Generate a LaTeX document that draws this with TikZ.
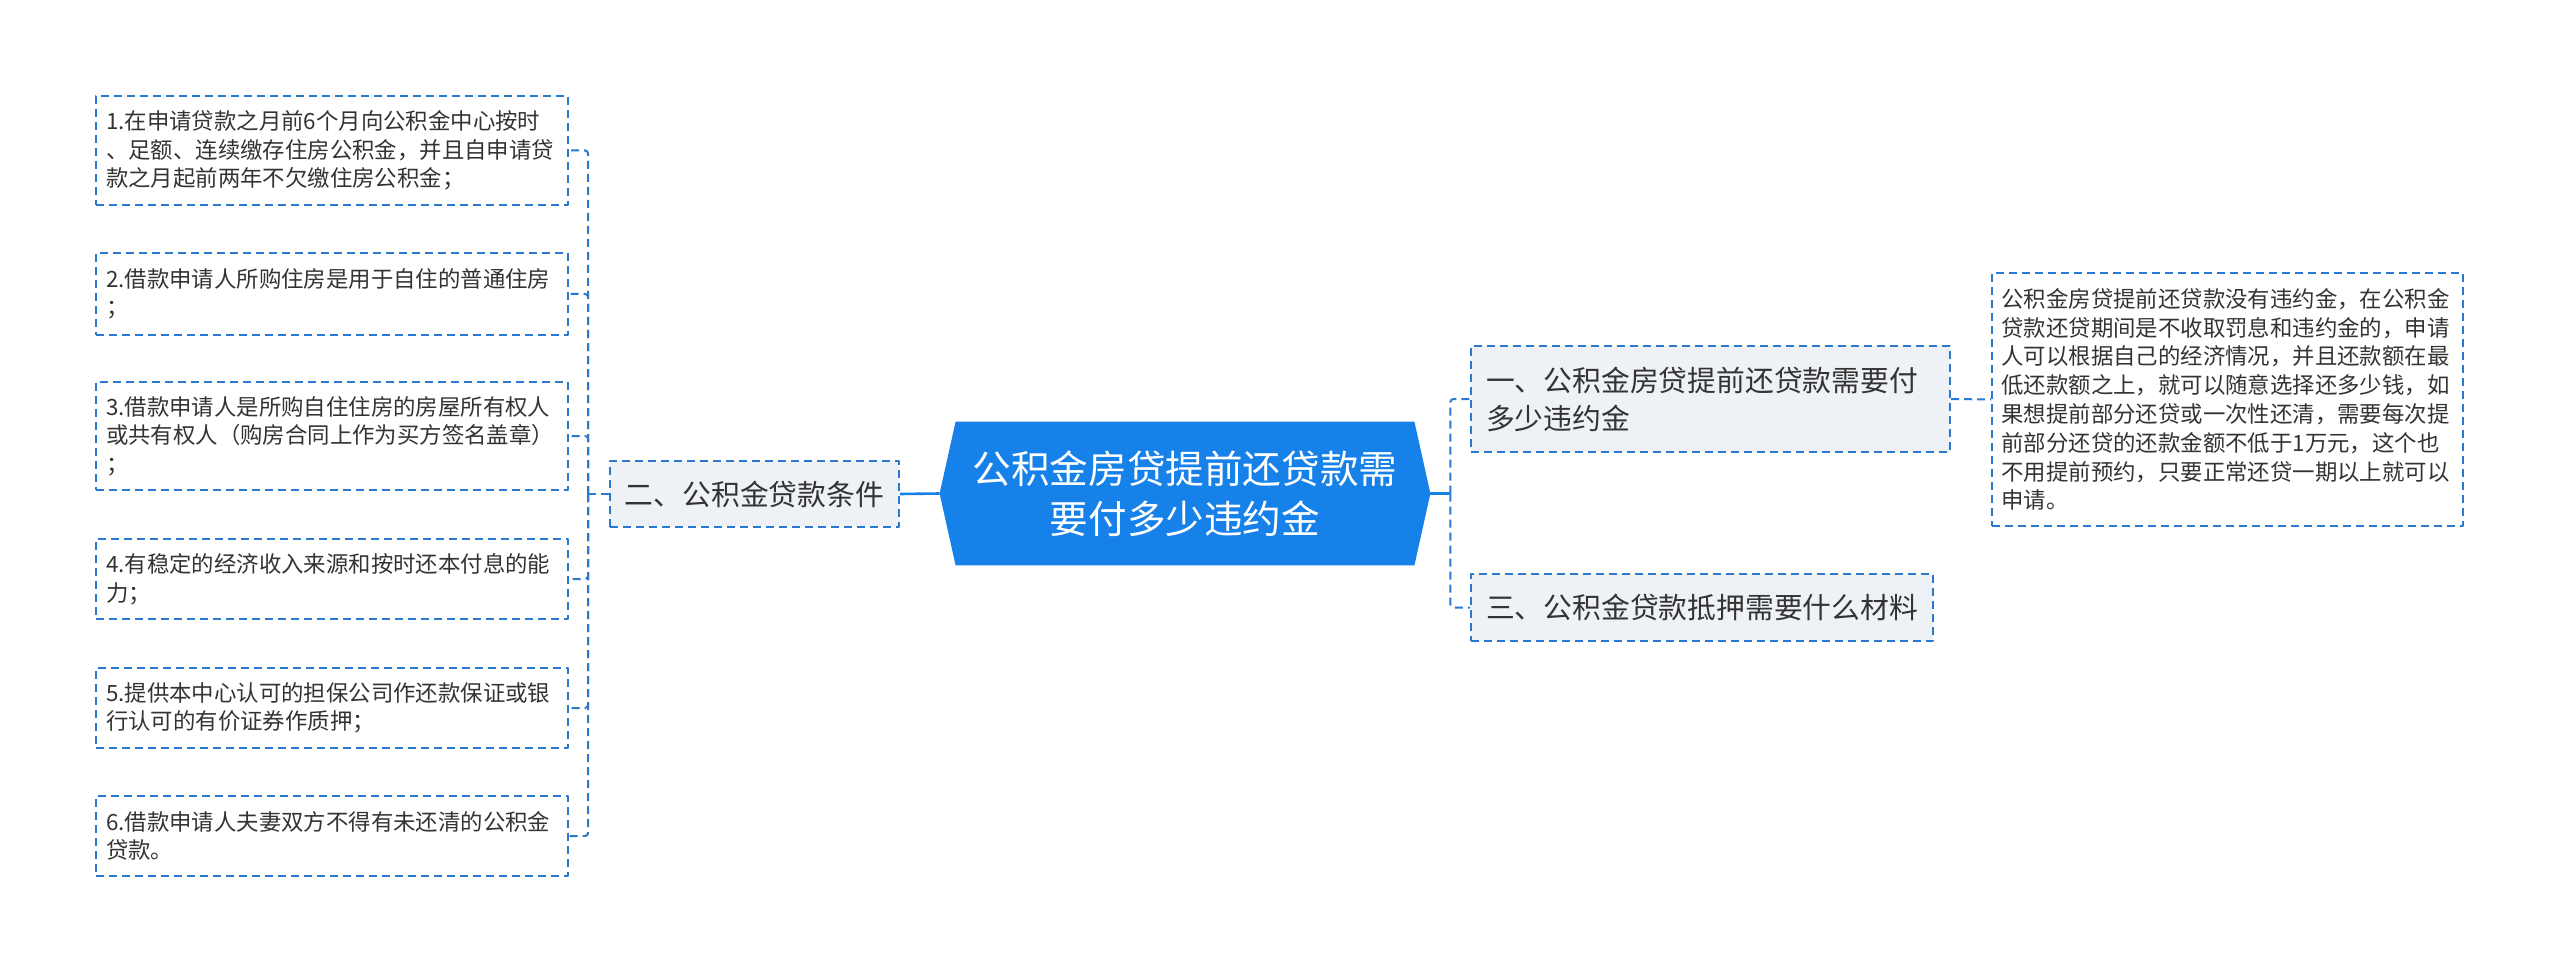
\documentclass[tikz,border=0pt]{standalone}
\usepackage{fontspec}
\setmainfont{Noto Sans CJK SC}
\usetikzlibrary{calc,backgrounds}
\definecolor{rootblue}{HTML}{1681E8}
\definecolor{linkblue}{HTML}{2A78CF}
\definecolor{topicfill}{HTML}{EEF1F5}
\definecolor{inktext}{HTML}{333333}

\begin{document}
\begin{tikzpicture}[
  x=0.5pt,
  y=-0.5pt,
  line join=round,
  dashbox/.style={draw=linkblue,line width=1pt,dash pattern=on 4pt off 2.5pt,inner ysep=0pt,text=inktext},
  leafbox/.style={dashbox,fill=white,text width=226pt,inner xsep=5pt,align=left,font=\fontsize{11.2pt}{14.3pt}\selectfont},
  notebox/.style={dashbox,fill=white,text width=226pt,inner xsep=4.75pt,align=left,font=\fontsize{11.2pt}{14.4pt}\selectfont},
  topicbox/.style={dashbox,fill=topicfill,inner xsep=0pt,font=\fontsize{14.4pt}{19pt}\selectfont},
  rootnode/.style={minimum width=245pt,minimum height=71.5pt,inner sep=0pt,text=white,align=center,font=\fontsize{19.3pt}{25.3pt}\selectfont},
  link/.style={draw=linkblue,line width=1pt,dash pattern=on 4pt off 2.5pt,rounded corners=1.5pt},
  trunk/.style={draw=rootblue,line width=1.3pt}
]
  \useasboundingbox (0,0) rectangle (2560,973);

  % Central topic, hexagon filled behind its text.
  \node[rootnode] (root) at (1185,493.5) {公积金房贷提前还贷款需\\要付多少违约金};
  \begin{scope}[on background layer]
    \fill[rootblue] (root.west) -- ($(root.north west)+(16,0)$) -- ($(root.north east)+(-16,0)$)
      -- (root.east) -- ($(root.south east)+(-16,0)$) -- ($(root.south west)+(16,0)$) -- cycle;
  \end{scope}

  % First-level topics.
  \node[topicbox,minimum width=144.5pt,minimum height=33pt] (t2) at (754.5,494) {二、公积金贷款条件};
  \node[topicbox,text width=224.5pt,inner xsep=7.5pt,minimum height=53pt,align=left] (t1) at (1710.5,399) {一、公积金房贷提前还贷款需要付\\多少违约金};
  \node[topicbox,minimum width=231pt,minimum height=33.5pt] (t3) at (1702,607.5) {三、公积金贷款抵押需要什么材料};

  % Detail note of topic one.
  \node[notebox,minimum height=126.5pt] (note) at (2227.5,399.5) {公积金房贷提前还贷款没有违约金，在公积金\\贷款还贷期间是不收取罚息和违约金的，申请\\人可以根据自己的经济情况，并且还款额在最\\低还款额之上，就可以随意选择还多少钱，如\\果想提前部分还贷或一次性还清，需要每次提\\前部分还贷的还款金额不低于1万元，这个也\\不用提前预约，只要正常还贷一期以上就可以\\申请。};

  % Loan conditions, one box per item.
  \node[leafbox,minimum height=54.5pt] (l1) at (332,150.5) {1.在申请贷款之月前6个月向公积金中心按时\\、足额、连续缴存住房公积金，并且自申请贷\\款之月起前两年不欠缴住房公积金；};
  \node[leafbox,minimum height=41pt] (l2) at (332,294) {2.借款申请人所购住房是用于自住的普通住房\\；};
  \node[leafbox,minimum height=54pt] (l3) at (332,436) {3.借款申请人是所购自住住房的房屋所有权人\\或共有权人（购房合同上作为买方签名盖章）\\；};
  \node[leafbox,minimum height=40pt] (l4) at (332,579) {4.有稳定的经济收入来源和按时还本付息的能\\力；};
  \node[leafbox,minimum height=40pt] (l5) at (332,708) {5.提供本中心认可的担保公司作还款保证或银\\行认可的有价证券作质押；};
  \node[leafbox,minimum height=40pt] (l6) at (332,836) {6.借款申请人夫妻双方不得有未还清的公积金\\贷款。};

  % Connectors.
  \draw[trunk] (root.west) -- (t2.east);
  \draw[link] (t2.west) -- ++(-21,0) coordinate (ljoin);
  \foreach \n in {1,...,6} {
    \draw[link] (ljoin) |- (l\n.east);
  }
  \draw[trunk] (root.east) -- ++(20,0) coordinate (rjoin);
  \foreach \n in {t1,t3} {
    \draw[link] (rjoin) |- (\n.west);
  }
  \draw[link] (t1.east) -- (note.west);
\end{tikzpicture}
\end{document}
